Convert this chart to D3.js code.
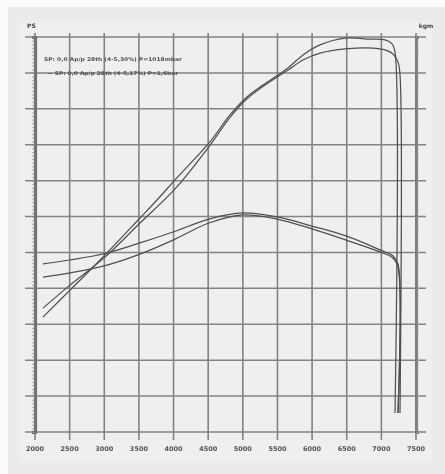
<!DOCTYPE html>
<html><head><meta charset="utf-8">
<script src="https://cdn.jsdelivr.net/npm/d3@7"></script>
<style>html,body{margin:0;padding:0;background:#fff;}svg{display:block;}</style>
</head><body>
<script>
// ---- data ----
const rpmTicks = [2000,2500,3000,3500,4000,4500,5000,5500,6000,6500,7000,7500];
const psGrid = [0,10,20,30,40,50,60,70,80,90,100,110];

const power1Rpm = [2115,2505,3010,3516,3761,4021,4512,4815,5060,5291,5652,5869,6114,6475,6836,7053,7154,7197,7197];
const power1Ps  = [32.0,39.5,49.3,59.6,64.6,70.2,80.5,88.3,93.3,96.6,101.4,105.0,107.8,109.7,109.4,109.2,108.1,105.8,5.3];

const power2Rpm = [2115,2505,3010,3516,4021,4512,4815,5060,5291,5652,5869,6114,6475,6980,7154,7240,7269,7269];
const power2Ps  = [34.5,40.9,48.7,58.2,67.7,79.5,87.6,92.8,96.2,100.8,103.6,105.5,106.7,106.7,105.5,103.0,99.4,5.3];

const torque1Rpm = [2115,2505,3039,3516,3992,4512,5003,5494,5999,6490,6980,7168,7240,7240];
const torque1Kgm = [9.36,9.58,9.97,10.53,11.14,11.86,12.20,11.98,11.47,10.92,10.14,9.80,9.36,1.06];

const torque2Rpm = [2115,2505,3039,3516,3992,4512,5003,5494,5999,6490,6980,7168,7240,7240];
const torque2Kgm = [8.63,8.86,9.30,9.91,10.69,11.64,12.09,11.86,11.31,10.69,10.03,9.69,9.19,1.06];

const legendLines = ["SP: 0,0 Ap/p 28th (4-5,30%) P=1018mbar", "— SP: 0,0 Ap/p 28th (4-5,17%) P=1,6bar"];
const leftUnit = "PS", rightUnit = "kgm";

// ---- layout ----
const W = 445, H = 474;
const L = 35, R = 416, T = 37, B = 432;
const svg = d3.select("body").append("svg").attr("width", W).attr("height", H);
const defs = svg.append("defs");
defs.append("filter").attr("id","scan").append("feGaussianBlur").attr("stdDeviation",0.45);

svg.append("rect").attr("width",W).attr("height",H).attr("fill","#fbfbfb");
svg.append("rect").attr("x",8).attr("y",7).attr("width",W-8).attr("height",H-7).attr("fill","#ebebeb");
svg.append("rect").attr("x",20).attr("y",22).attr("width",412).attr("height",440).attr("fill","#efefef");

const x = d3.scaleLinear().domain([2000,7500]).range([L,R]);
const yP = d3.scaleLinear().domain([0,110]).range([B,T]);
const yT = d3.scaleLinear().domain([0,22]).range([B,T]);

const g = svg.append("g").attr("filter","url(#scan)");
const gridColor = "#838383";

// vertical grid
g.selectAll("line.v").data(rpmTicks).join("line")
  .attr("x1",d=>x(d)).attr("x2",d=>x(d)).attr("y1",T-4).attr("y2",B+8)
  .attr("stroke",gridColor).attr("stroke-width",1.6);
// horizontal grid
g.selectAll("line.h").data(psGrid).join("line")
  .attr("x1",L-10).attr("x2",R+10).attr("y1",d=>yP(d)).attr("y2",d=>yP(d))
  .attr("stroke",gridColor).attr("stroke-width",1.5);

// thick axes with minor ticks
const leftAxis = d3.axisLeft(yP).ticks(110).tickSize(3).tickFormat("");
const la = g.append("g").attr("transform",`translate(${L},0)`).call(leftAxis);
la.select(".domain").attr("stroke","#727272").attr("stroke-width",3.2);
la.selectAll(".tick line").attr("stroke","#8a8a8a").attr("stroke-width",0.7);
const rightAxis = d3.axisRight(yT).ticks(110).tickSize(3).tickFormat("");
const ra = g.append("g").attr("transform",`translate(${R},0)`).call(rightAxis);
ra.select(".domain").attr("stroke","#7e7e7e").attr("stroke-width",3);
ra.selectAll(".tick line").attr("stroke","#9a9a9a").attr("stroke-width",0.6);

// x tick labels
g.selectAll("text.xt").data(rpmTicks).join("text")
  .attr("x",d=>x(d)).attr("y",B+19).attr("text-anchor","middle")
  .attr("font-family","DejaVu Sans").attr("font-size",6.5).attr("font-weight","bold")
  .attr("fill","#555").text(d=>d);

// unit labels
g.append("text").attr("x",L-8).attr("y",T-9).attr("font-family","DejaVu Sans").attr("font-size",6)
  .attr("font-weight","bold").attr("fill","#444").text(leftUnit);
g.append("text").attr("x",R+10).attr("y",T-9).attr("text-anchor","middle").attr("font-family","DejaVu Sans").attr("font-size",6)
  .attr("font-weight","bold").attr("fill","#444").text(rightUnit);

// legend text
g.selectAll("text.lg").data(legendLines).join("text")
  .attr("x",(d,i)=>i===0?44:47).attr("y",(d,i)=>61+i*14)
  .attr("textLength",(d,i)=>i===0?138:131).attr("lengthAdjust","spacingAndGlyphs")
  .attr("font-family","DejaVu Sans").attr("font-size",5).attr("font-weight","bold")
  .attr("fill","#505050").text(d=>d);

// curves
const curve = d3.curveCatmullRom.alpha(0.5);
const lineP = d3.line().x(d=>x(d[0])).y(d=>yP(d[1])).curve(curve);
const lineT = d3.line().x(d=>x(d[0])).y(d=>yT(d[1])).curve(curve);
const series = [
  {pts: d3.zip(power1Rpm, power1Ps), gen: lineP},
  {pts: d3.zip(power2Rpm, power2Ps), gen: lineP},
  {pts: d3.zip(torque1Rpm, torque1Kgm), gen: lineT},
  {pts: d3.zip(torque2Rpm, torque2Kgm), gen: lineT}
];
g.selectAll("path.s").data(series).join("path")
  .attr("d",d=>d.gen(d.pts)).attr("fill","none")
  .attr("stroke","#505050").attr("stroke-width",1.25).attr("stroke-linejoin","round");
</script>
</body></html>
